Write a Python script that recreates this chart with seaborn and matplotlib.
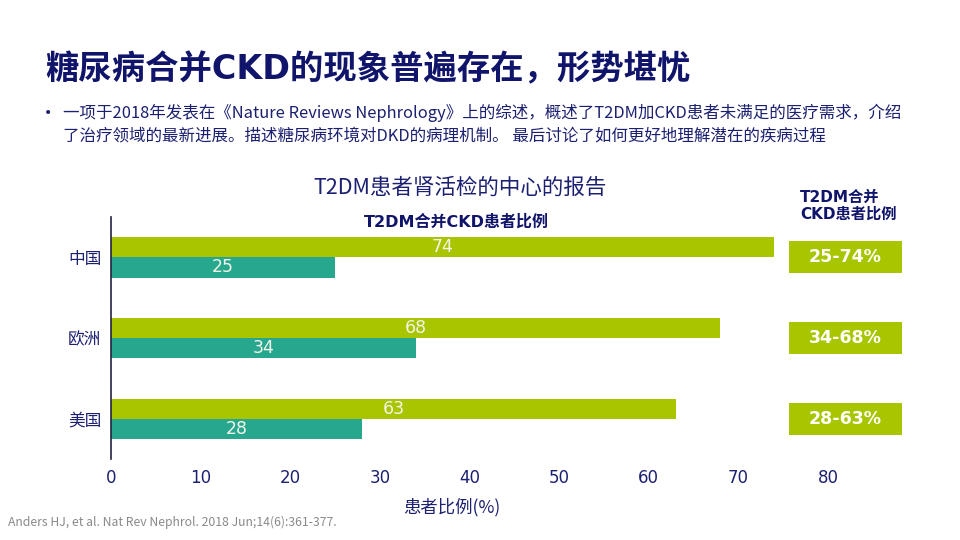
import matplotlib
matplotlib.use("Agg")
import pandas as pd
import matplotlib.pyplot as plt
import matplotlib.transforms as mtransforms
from matplotlib.patches import Rectangle
import seaborn as sns

# data
regions = ["中国", "欧洲", "美国"]
high_pct = [74, 68, 63]
low_pct = [25, 34, 28]
range_labels = ["25-74%", "34-68%", "28-63%"]
x_ticks = [0, 10, 20, 30, 40, 50, 60, 70, 80]

GREEN = "#A9C500"
TEAL = "#27A88E"
NAVY = "#1C2070"
DARK = "#10146A"
CJK = ["Noto Sans CJK SC", "DejaVu Sans"]

sns.set_theme(style="white")
plt.rcParams["font.family"] = ["DejaVu Sans", "Noto Sans CJK SC"]

df = pd.DataFrame({
    "地区": regions * 2,
    "比例": high_pct + low_pct,
    "组": ["高"] * len(regions) + ["低"] * len(regions),
})

fig = plt.figure(figsize=(9.6, 5.4), dpi=100)
ax = fig.add_axes([111 / 960, 1 - 459 / 540, (828 - 111) / 960, (459 - 217) / 540])

sns.barplot(data=df, y="地区", x="比例", hue="组", hue_order=["高", "低"],
            palette=[GREEN, TEAL], orient="h", width=0.5, saturation=1,
            linewidth=0, legend=False, ax=ax)

for cont in ax.containers:
    ax.bar_label(cont, label_type="center", color="#F4F4E8", fontsize=12.5)

ax.set_xlim(0, 80)
ax.set_ylim(2.5, -0.5)
ax.set_xticks(x_ticks)
ax.tick_params(axis="x", labelsize=12, colors=NAVY, length=0, pad=7)
ax.tick_params(axis="y", labelsize=12, colors=NAVY, length=0, pad=7)
for lbl in ax.get_yticklabels():
    lbl.set_family(CJK)
ax.set_ylabel("")
ax.set_xlabel("患者比例(%)", fontsize=12.5, color=NAVY, labelpad=8, family=CJK)
ax.xaxis.label.set_x((452 - 111) / 717)
for side in ["top", "right", "bottom"]:
    ax.spines[side].set_visible(False)
ax.spines["left"].set_color("#222244")
ax.spines["left"].set_linewidth(1.2)

# range boxes on the right, aligned to the categories
trans = mtransforms.blended_transform_factory(fig.transFigure, ax.transData)
for i, lab in enumerate(range_labels):
    ax.add_patch(Rectangle((789 / 960, i - 0.2), 113 / 960, 0.4, transform=trans,
                           facecolor=GREEN, edgecolor="none", clip_on=False))
    ax.text(845.5 / 960, i, lab, transform=trans, ha="center", va="center",
            color="white", fontsize=12.5, fontweight="bold")

fig.text(800 / 960, 1 - 206 / 540, "T2DM合并\nCKD患者比例", ha="left", va="center",
         color=DARK, fontsize=11, fontweight="bold", linespacing=1.15)

fig.text(460 / 960, 1 - 188 / 540, "T2DM患者肾活检的中心的报告", ha="center", va="center",
         color=NAVY, fontsize=15.5, family=CJK)
fig.text(456 / 960, 1 - 222 / 540, "T2DM合并CKD患者比例", ha="center", va="center",
         color=DARK, fontsize=11.5, fontweight="bold")

fig.text(45 / 960, 1 - 70 / 540, "糖尿病合并CKD的现象普遍存在，形势堪忧", ha="left", va="center",
         color=DARK, fontsize=24, fontweight="bold")

fig.text(44 / 960, 1 - 113 / 540, "•", ha="left", va="center", color=NAVY, fontsize=10)
bullet = ("一项于2018年发表在《Nature Reviews Nephrology》上的综述，概述了T2DM加CKD患者未满足的医疗需求，介绍\n"
          "了治疗领域的最新进展。描述糖尿病环境对DKD的病理机制。 最后讨论了如何更好地理解潜在的疾病过程")
fig.text(63 / 960, 1 - 124 / 540, bullet, ha="left", va="center", color=NAVY,
         fontsize=11.9, linespacing=1.38, family=CJK)

fig.text(8 / 960, 1 - 522 / 540, "Anders HJ, et al. Nat Rev Nephrol. 2018 Jun;14(6):361-377.",
         ha="left", va="center", color="#8A8A8A", fontsize=8.8, family=CJK)

fig.savefig("out.png", dpi=100)
